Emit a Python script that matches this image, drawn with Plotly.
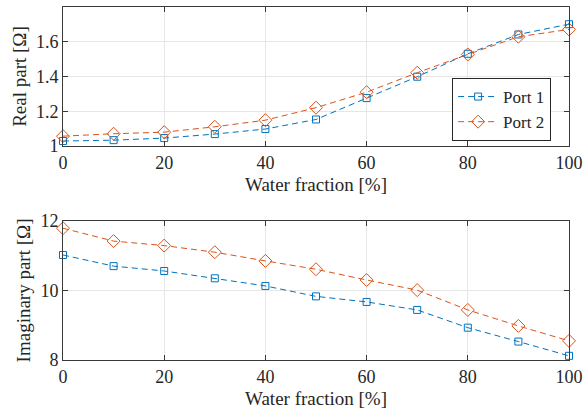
import plotly.graph_objects as go

water = [0, 10, 20, 30, 40, 50, 60, 70, 80, 90, 100]
real_port1 = [1.029, 1.034, 1.046, 1.069, 1.098, 1.153, 1.276, 1.399, 1.531, 1.642, 1.701]
real_port2 = [1.057, 1.071, 1.080, 1.111, 1.149, 1.221, 1.310, 1.422, 1.527, 1.629, 1.671]
imag_port1 = [11.02, 10.70, 10.56, 10.35, 10.13, 9.83, 9.67, 9.44, 8.93, 8.53, 8.12]
imag_port2 = [11.79, 11.42, 11.29, 11.10, 10.85, 10.61, 10.30, 10.01, 9.44, 8.98, 8.55]

BLUE = "#0072BD"
ORANGE = "#D95319"
FONT = "Liberation Serif"
TXT = "#262626"

fig = go.Figure()

def add(x, y, name, color, symbol, xa, ya, show):
    fig.add_trace(go.Scatter(
        x=x, y=y, name=name, mode="lines+markers",
        line=dict(color=color, width=1, dash="6px,4px"),
        marker=dict(symbol=symbol, size=7 if symbol.startswith("square") else 10,
                    color=color, line=dict(color=color, width=1)),
        xaxis=xa, yaxis=ya, showlegend=show, cliponaxis=False))

add(water, real_port1, "Port 1", BLUE, "square-open", "x", "y", True)
add(water, real_port2, "Port 2", ORANGE, "diamond-open", "x", "y", True)
add(water, imag_port1, "Port 1", BLUE, "square-open", "x2", "y2", False)
add(water, imag_port2, "Port 2", ORANGE, "diamond-open", "x2", "y2", False)

axcommon = dict(showline=True, mirror="ticks", linecolor="#3a3a3a", linewidth=1,
                ticks="inside", ticklen=5, tickcolor="#3a3a3a", automargin=False,
                gridcolor="#e6e6e6", gridwidth=1, zeroline=False,
                tickfont=dict(family=FONT, size=18, color=TXT))

xcommon = dict(axcommon, range=[0, 100], tickvals=[0, 20, 40, 60, 80, 100],
               title=dict(text="Water fraction [%]", font=dict(family=FONT, size=19, color=TXT), standoff=6))

fig.update_layout(
    width=583, height=414,
    margin=dict(l=63, r=14, t=7, b=54),
    paper_bgcolor="white", plot_bgcolor="white",
    font=dict(family=FONT, color=TXT),
    xaxis=dict(xcommon, domain=[0, 1], anchor="y"),
    yaxis=dict(axcommon, domain=[0.606, 1], anchor="x", range=[1, 1.8],
               tickvals=[1, 1.2, 1.4, 1.6], ticktext=["1", "1.2", "1.4", "1.6"],
               title=dict(text="Real part [Ω]", font=dict(family=FONT, size=19, color=TXT), standoff=4)),
    xaxis2=dict(xcommon, domain=[0, 1], anchor="y2"),
    yaxis2=dict(axcommon, domain=[0, 0.394], anchor="x2", range=[8, 12],
                tickvals=[8, 10, 12],
                title=dict(text="Imaginary part [Ω]", font=dict(family=FONT, size=19, color=TXT), standoff=4)),
    legend=dict(x=0.769, y=0.7096, xanchor="left", yanchor="middle",
                bgcolor="white", bordercolor=TXT, borderwidth=1,
                font=dict(family=FONT, size=17, color=TXT),
                tracegroupgap=0, itemwidth=40),
)

fig.write_html("out.html", config={"displayModeBar": False},
               post_script="document.body.style.margin='0';document.body.style.overflow='hidden';")
